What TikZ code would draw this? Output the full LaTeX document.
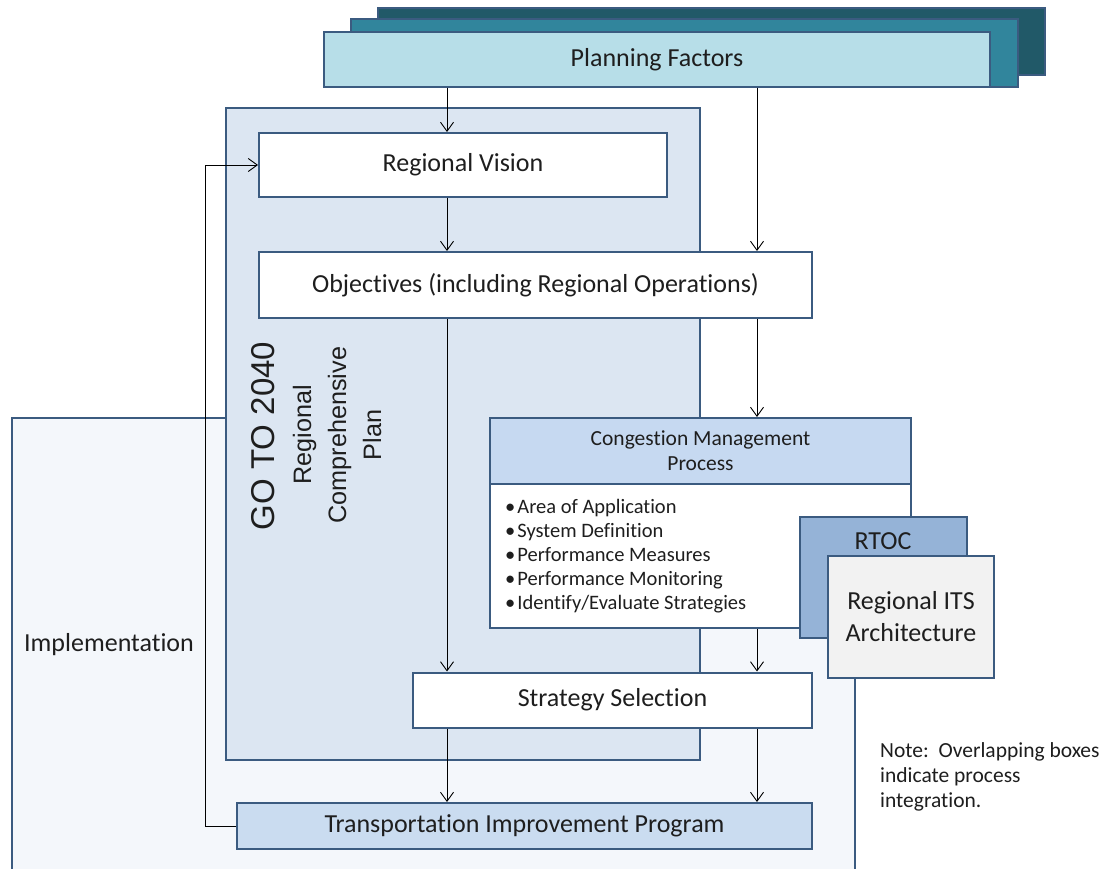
\documentclass[tikz,border=0pt]{standalone}
\usepackage{fontspec}
\setmainfont{Carlito}[Ligatures=NoCommon]
\newfontfamily\arialf{Liberation Sans}
\usetikzlibrary{arrows.meta,calc}
\definecolor{bord}{HTML}{3B5B80}
\definecolor{txt}{HTML}{1E1E1E}
\definecolor{pfdark}{HTML}{215968}
\definecolor{pfmid}{HTML}{31859C}
\definecolor{pflight}{HTML}{B7DEE8}
\definecolor{implfill}{HTML}{F4F7FB}
\definecolor{gofill}{HTML}{DCE6F2}
\definecolor{hdrfill}{HTML}{C6D9F1}
\definecolor{rtocfill}{HTML}{95B3D7}
\definecolor{itsfill}{HTML}{F2F2F2}
\definecolor{tipfill}{HTML}{CADCF0}
\begin{document}
\begin{tikzpicture}[x=1pt,y=-1pt,
  box/.style={draw=bord,line width=2pt,inner sep=0pt,text=txt,align=center},
  bigtext/.style={font=\fontsize{26}{32}\selectfont,text=txt,align=center},
  arr/.style={-{Straight Barb[length=9pt,width=13pt]},line width=0.9pt,draw=black}]
\useasboundingbox (0,0) rectangle (1109,869);
\fill[white] (0,0) rectangle (1109,869);

% Planning factors stack
\node[box,fill=pfdark,minimum width=667pt,minimum height=67pt] (pfd) at (711,41.5) {};
\node[box,fill=pfmid,minimum width=667pt,minimum height=68pt] (pfm) at (684.5,53) {};
\node[box,fill=pflight,minimum width=666pt,minimum height=55pt,bigtext] (pf) at (657,59.5) {Planning Factors};

% Implementation frame
\node[box,fill=implfill,minimum width=843pt,minimum height=482pt] (impl) at (433.5,659) {};
\node[bigtext] (impltxt) at (109,645) {Implementation};

% GO TO 2040 box
\node[box,fill=gofill,minimum width=474pt,minimum height=652pt] (go) at (463,434) {};
\node[rotate=90,text=txt,font=\arialf\fontsize{33}{39}\selectfont] (gotxt) at (263,436) {GO TO 2040};
\node[rotate=90,text=txt,align=center,font=\arialf\fontsize{25.2}{35}\selectfont] (rcp) at (337,435) {Regional\\Comprehensive\\Plan};

% Regional vision and objectives
\node[box,fill=white,minimum width=408pt,minimum height=64pt,bigtext] (rv) at (463,165) {Regional Vision};
\node[box,fill=white,minimum width=553pt,minimum height=66pt,bigtext] (obj) at (535.5,285) {Objectives (including Regional Operations)};

% Congestion management process
\node[box,fill=hdrfill,minimum width=421pt,minimum height=66pt,font=\fontsize{21.5}{25}\selectfont] (cmph) at (700.5,451) {Congestion Management\\Process};
\node[box,fill=white,minimum width=421pt,minimum height=144pt] (cmpb) at (700.5,556) {};
\node[anchor=west,align=left,text=txt,inner sep=0pt,font=\fontsize{20.5}{24}\selectfont] (cmplist) at (505,556) {%
•\hspace{2pt}Area of Application\\
•\hspace{2pt}System Definition\\
•\hspace{2pt}Performance Measures\\
•\hspace{2pt}Performance Monitoring\\
•\hspace{2pt}Identify/Evaluate Strategies};

% RTOC and ITS
\node[box,fill=rtocfill,minimum width=167pt,minimum height=121pt] (rtoc) at (883,577.5) {};
\node[bigtext] (rtoctxt) at (883,541) {RTOC};
\node[box,fill=itsfill,minimum width=166pt,minimum height=122pt,bigtext] (its) at (911,617) {Regional ITS\\Architecture};

% Strategy selection and TIP
\node[box,fill=white,minimum width=399pt,minimum height=55pt,bigtext] (ss) at (612.5,700) {Strategy Selection};
\node[box,fill=tipfill,minimum width=575pt,minimum height=46pt,bigtext] (tip) at (524.5,826) {Transportation Improvement Program};

% Note
\node[anchor=north west,align=left,text=txt,inner sep=0pt,font=\fontsize{21.5}{25}\selectfont] (note) at (880,742) {Note:\ \ Overlapping boxes\\indicate process\\integration.};

% Connectors
\coordinate (xa) at (447,0);
\coordinate (xb) at (757,0);
\coordinate (xl) at (205,0);
\draw[arr] (xa |- pf.south) -- (xa |- rv.north);
\draw[arr] (xb |- pf.south) -- (xb |- obj.north);
\draw[arr] (xa |- rv.south) -- (xa |- obj.north);
\draw[arr] (xa |- obj.south) -- (xa |- ss.north);
\draw[arr] (xb |- obj.south) -- (xb |- cmph.north);
\draw[arr] (xb |- cmpb.south) -- (xb |- ss.north);
\draw[arr] (xa |- ss.south) -- (xa |- tip.north);
\draw[arr] (xb |- ss.south) -- (xb |- tip.north);
\draw[arr] (tip.west) -| (xl |- rv.west) -- (rv.west);
\end{tikzpicture}
\end{document}
